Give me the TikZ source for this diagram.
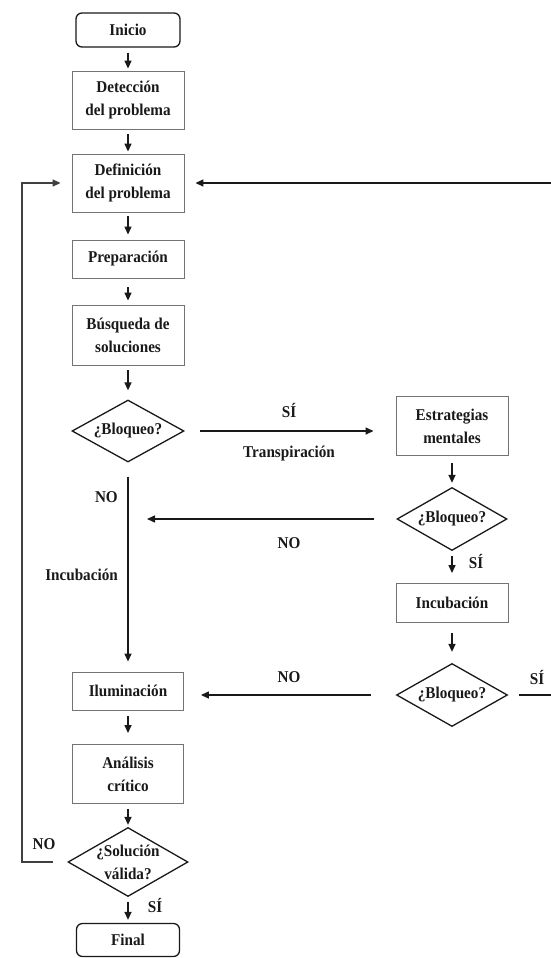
\documentclass[tikz,border=0pt]{standalone}
\usepackage{fontspec}
\setmainfont{Liberation Serif}[FakeStretch=0.92]
\usetikzlibrary{arrows.meta,shapes.geometric}
\begin{document}
\begin{tikzpicture}[x=1pt,y=-1pt,
  every node/.style={font=\bfseries\fontsize{16.5}{23}\selectfont, text=black!90},
  box/.style={draw=black!55, line width=0.9pt, minimum width=112pt, inner sep=0pt, align=center},
  term/.style={draw=black!90, line width=1.3pt, rounded corners=6pt, minimum width=104pt, minimum height=34pt, inner sep=0pt},
  dec/.style={draw=black!90, line width=1.3pt, diamond, shape aspect=1.8, minimum width=112pt, minimum height=62pt, inner sep=0pt},
  arr/.style={draw=black!90, line width=1.4pt, -{Triangle[length=8pt,width=7pt]}},
  lbl/.style={inner sep=0pt}]
\useasboundingbox (0,0) rectangle (551,958);

% main column
\node[term] (ini) at (128,30) {Inicio};
\node[box, minimum height=58pt] (det) at (128,100) {Detección\\del problema};
\node[box, minimum height=58pt] (def) at (128,183) {Definición\\del problema};
\node[box, minimum height=38pt] (prep) at (128,259) {Preparación};
\node[box, minimum height=60pt] (bus) at (128,335) {Búsqueda de\\soluciones};
\node[dec] (d1) at (128,431) {¿Bloqueo?};
\node[box, minimum width=111pt, minimum height=38pt] (ilu) at (128,691) {Iluminación};
\node[box, minimum width=111pt, minimum height=59pt] (ana) at (128,774) {Análisis\\crítico};
\node[dec, minimum width=120pt, minimum height=69pt, shape aspect=1.74] (d4) at (128,862) {};
\node[align=center, inner sep=0pt] (d4t) at (128,862) {¿Solución\\válida?};
\node[term, minimum width=103pt, minimum height=33pt] (fin) at (128,940) {Final};

% right column
\node[box, minimum height=59pt] (est) at (452,426) {Estrategias\\mentales};
\node[dec, minimum width=110pt, minimum height=63pt] (d2) at (452,519) {¿Bloqueo?};
\node[box, minimum height=39pt] (inc) at (452,603) {Incubación};
\node[dec, minimum width=111pt, minimum height=63pt] (d3) at (452,695) {¿Bloqueo?};

% helper coordinates
\coordinate (noend) at (147,519);
\coordinate (rr) at (553,0);
\coordinate (lc) at (22,0);

% connectors
\draw[arr, shorten <=5pt, shorten >=2pt] (ini) -- (det);
\draw[arr, shorten <=5pt, shorten >=2pt] (det) -- (def);
\draw[arr, shorten <=4pt, shorten >=5pt] (def) -- (prep);
\draw[arr, shorten <=9pt, shorten >=4pt] (prep) -- (bus);
\draw[arr, shorten <=5pt, shorten >=9pt] (bus) -- (d1);
\draw[arr, shorten <=15pt, shorten >=22pt] (d1.east) -- (d1.east -| est.west);
\draw[arr, shorten <=14pt, shorten >=10pt] (d1.south) -- (ilu.north);
\draw[arr, shorten <=7pt, shorten >=4pt] (est) -- (d2);
\draw[arr, shorten <=22pt] (d2.west) -- (noend);
\draw[arr, shorten <=5pt, shorten >=10pt] (d2) -- (inc);
\draw[arr, shorten <=10pt, shorten >=11pt] (inc) -- (d3);
\draw[arr, shorten <=25pt, shorten >=17pt] (d3.west) -- (d3.west -| ilu.east);
\draw[arr, shorten <=11pt, shorten >=11pt] (d3.east) -- (d3.east -| rr) -- (rr |- def.east) -- (def.east);
\draw[arr, shorten <=6pt, shorten >=11pt] (ilu) -- (ana);
\draw[arr, shorten <=5pt, shorten >=2pt] (ana) -- (d4);
\draw[arr, draw=black!75, shorten <=14pt, shorten >=11pt] (d4.west) -- (d4.west -| lc) -- (lc |- def.west) -- (def.west);
\draw[arr, shorten <=5pt, shorten >=3pt] (d4) -- (fin);

% labels
\node[lbl] (l1) at (289,410) {SÍ};
\node[lbl] (l2) at (289,454) {Transpiración};
\node[lbl] (l3) at (289,543) {NO};
\node[lbl, anchor=east] (l4) at (118,497) {NO};
\node[lbl, anchor=east] (l5) at (118,575) {Incubación};
\node[lbl] (l6) at (476,561) {SÍ};
\node[lbl] (l7) at (289,677) {NO};
\node[lbl] (l8) at (537,677) {SÍ};
\node[lbl] (l9) at (44,844) {NO};
\node[lbl] (l10) at (155,905) {SÍ};
\end{tikzpicture}
\end{document}
